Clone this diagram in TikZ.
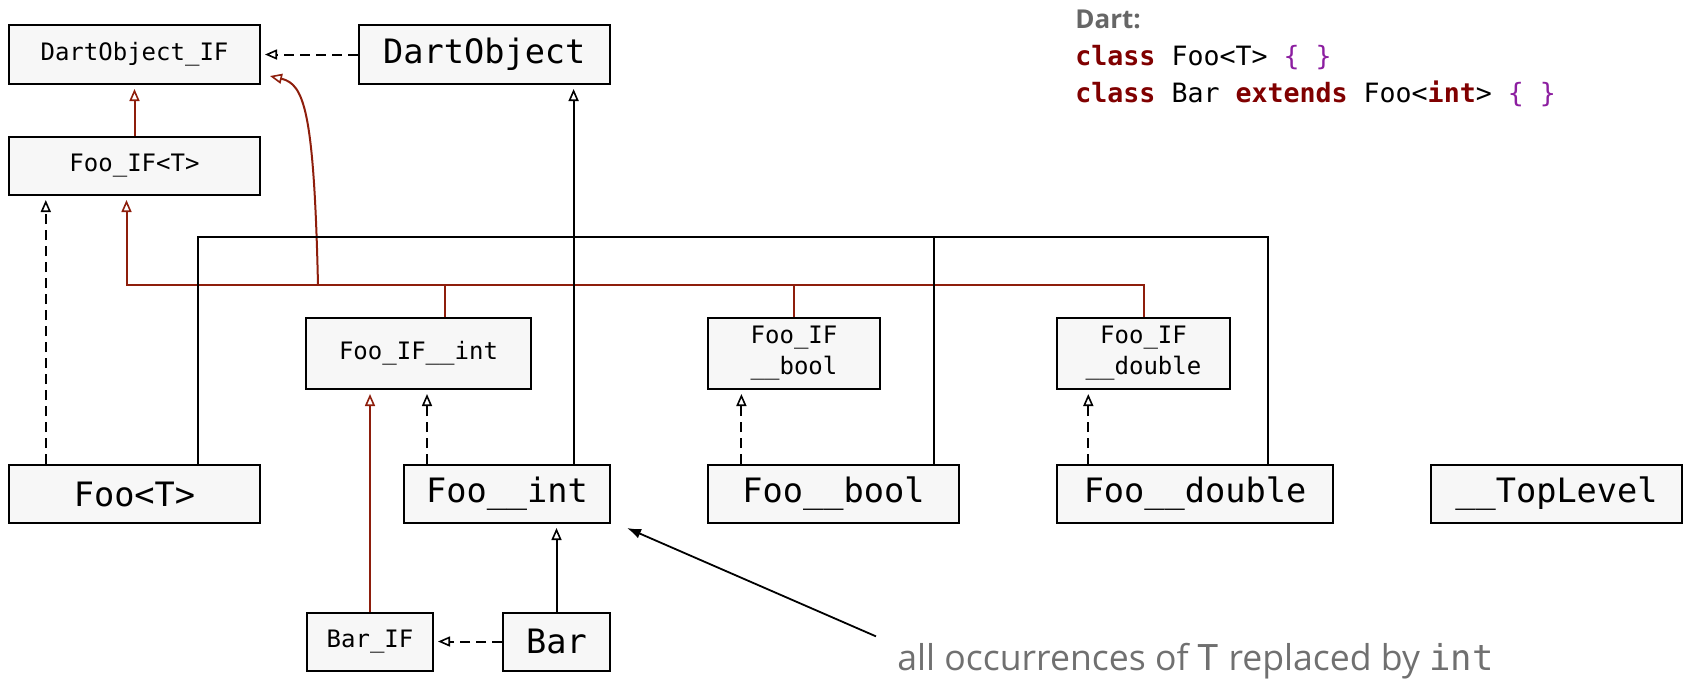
\documentclass[tikz,border=0pt]{standalone}
\usepackage{fontspec}
\setmonofont{DejaVu Sans Mono}
\setsansfont{Open Sans}
\usetikzlibrary{arrows.meta}
\definecolor{boxfill}{HTML}{F7F7F7}
\definecolor{ifred}{RGB}{142,30,12}
\definecolor{kwred}{RGB}{128,0,0}
\definecolor{brpurple}{RGB}{140,30,160}
\definecolor{notegray}{RGB}{112,112,112}
\definecolor{dartgray}{RGB}{102,102,102}
\tikzset{
  box/.style={draw=black, line width=1pt, fill=boxfill, inner sep=0pt,
    font=\ttfamily\fontsize{16.8}{20}\selectfont},
  sbox/.style={box, align=center, font=\ttfamily\fontsize{12}{15.5}\selectfont},
  opentip/.style={-{Triangle[open, length=6pt, width=5pt, line width=0.8pt]}},
  blkline/.style={draw=black, line width=1pt},
  blkarrow/.style={blkline, opentip, shorten >=2pt},
  redline/.style={draw=ifred, line width=1pt},
  redarrow/.style={redline, opentip, shorten >=2pt},
  dasharrow/.style={blkline, dash pattern=on 5pt off 3pt, opentip, shorten >=2pt},
  notearrow/.style={draw=black, line width=0.9pt, -{Latex[length=7pt, width=5pt]}},
  codeline/.style={anchor=base west, inner sep=0pt, font=\ttfamily\fontsize{13.3}{16}\selectfont},
}
\begin{document}
\begin{tikzpicture}[x=0.5pt, y=-0.5pt]
\useasboundingbox (0,0) rectangle (1685,682);

% top row
\node[sbox, minimum width=125.5pt, minimum height=29.5pt] (doif) at (134.5,54.5) {DartObject\_IF};
\node[box, minimum width=125.5pt, minimum height=29.5pt] (dobj) at (484.3,54.5) {DartObject};
\node[sbox, minimum width=125.5pt, minimum height=29pt] (fooift) at (134.5,166) {Foo\_IF<T>};

% interface row
\node[sbox, minimum width=112.5pt, minimum height=35.5pt] (fooifint) at (418.5,353.5) {Foo\_IF\_\_int};
\node[sbox, minimum width=86pt, minimum height=35.5pt] (fooifbool) at (794,353.5) {Foo\_IF\\\_\_bool};
\node[sbox, minimum width=86.5pt, minimum height=35.5pt] (fooifdouble) at (1143.5,353.5) {Foo\_IF\\\_\_double};

% class row
\node[box, minimum width=125.5pt, minimum height=29pt] (foot) at (134.5,494) {Foo<T>};
\node[box, minimum width=103pt, minimum height=29pt] (fooint) at (507,494) {Foo\_\_int};
\node[box, minimum width=125.5pt, minimum height=29pt] (foobool) at (833.5,494) {Foo\_\_bool};
\node[box, minimum width=138pt, minimum height=29pt] (foodouble) at (1195,494) {Foo\_\_double};
\node[box, minimum width=125.5pt, minimum height=29pt] (toplevel) at (1556.5,494) {\_\_TopLevel};

% bottom row
\node[sbox, minimum width=63pt, minimum height=29pt] (barif) at (370,641.5) {Bar\_IF};
\node[box, minimum width=53.5pt, minimum height=29pt] (bar) at (556.5,641.5) {Bar};

% code sample
\node[anchor=base west, inner sep=0pt, text=dartgray, font=\sffamily\bfseries\fontsize{13}{16}\selectfont] (dart) at (1075,28) {Dart:};
\node[codeline] (code1) at (1075,65) {\textcolor{kwred}{\bfseries class} Foo<T> \textcolor{brpurple}{\{ \}}};
\node[codeline] (code2) at (1075,102) {\textcolor{kwred}{\bfseries class} Bar \textcolor{kwred}{\bfseries extends} Foo<\textcolor{kwred}{\bfseries int}> \textcolor{brpurple}{\{ \}}};

% annotation
\node[anchor=base west, inner sep=0pt, text=notegray, font=\sffamily\fontsize{17.8}{21}\selectfont] (note) at (897,670)
  {all occurrences of {\ttfamily T} replaced by {\ttfamily int}};
\draw[notearrow] ([shift={(-21,-6)}]note.north west) -- ([shift={(16,4)}]fooint.south east);

% junction coordinates
\coordinate (bh) at (0,236.7);
\coordinate (rh) at (0,285);
\coordinate (rL) at (126.5,285);
\coordinate (rA) at (444.9,285);
\coordinate (rC) at (318,285);
\coordinate (bT) at ([xshift=95.2pt]foot.north west);
\coordinate (bI) at ([xshift=85.3pt]fooint.north west);
\coordinate (bB) at ([xshift=113.4pt]foobool.north west);
\coordinate (bD) at ([xshift=105.9pt]foodouble.north west);
\coordinate (dT) at ([xshift=18.9pt]foot.north west);
\coordinate (dI) at ([xshift=12pt]fooint.north west);
\coordinate (dB) at ([xshift=17.2pt]foobool.north west);
\coordinate (dD) at ([xshift=16.15pt]foodouble.north west);

% DartObject -> DartObject_IF
\draw[dasharrow] (dobj.west) -- (doif.east);
% Foo_IF<T> -> DartObject_IF
\draw[redarrow] (fooift.north) -- (doif.south);

% red interface tree
\draw[redarrow] (fooifdouble.north) -- (fooifdouble.north |- rh) -- (rL) -- (rL |- fooift.south);
\draw[redline] (fooifbool.north) -- (fooifbool.north |- rh);
\draw[redline] (rA |- fooifint.north) -- (rA);
\draw[redline, opentip] (rC) .. controls (314,110) and (304,84) .. ([shift={(9,-9)}]doif.south east);

% black class tree
\draw[blkline] (bT) -- (bT |- bh) -- (bD |- bh) -- (bD);
\draw[blkline] (bB) -- (bB |- bh);
\draw[blkarrow] (bI) -- (bI |- dobj.south);

% dashed implements
\draw[dasharrow] (dT) -- (dT |- fooift.south);
\draw[dasharrow] (dI) -- (dI |- fooifint.south);
\draw[dasharrow] (dB) -- (dB |- fooifbool.south);
\draw[dasharrow] (dD) -- (dD |- fooifdouble.south);

% Bar
\draw[redarrow] (barif.north) -- (barif.north |- fooifint.south);
\draw[blkarrow] (bar.north) -- (bar.north |- fooint.south);
\draw[dasharrow] (bar.west) -- (barif.east);
\end{tikzpicture}
\end{document}
